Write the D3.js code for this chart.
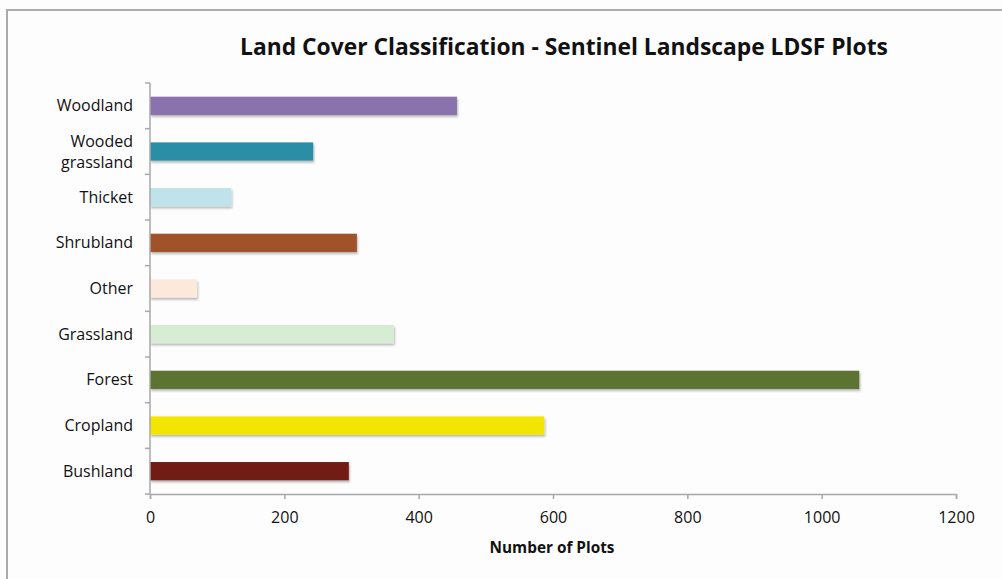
<!DOCTYPE html>
<html>
<head>
<meta charset="utf-8">
<script src="https://cdn.jsdelivr.net/npm/d3@7/dist/d3.min.js"></script>
<style>
  html, body { margin: 0; padding: 0; background: #fdfdfd; }
  svg { display: block; }
  text { font-family: "Open Sans", "DejaVu Sans", sans-serif; fill: #111; }
</style>
</head>
<body>
<svg id="chart" width="1002" height="579"></svg>
<script>
// Land cover classes, listed top to bottom as drawn
const categories = ["Woodland", "Wooded grassland", "Thicket", "Shrubland", "Other",
                    "Grassland", "Forest", "Cropland", "Bushland"];
const plotCounts = [457, 243, 121, 308, 70, 363, 1056, 587, 296];
const barColors = ["#8a72ad", "#2a8fa6", "#bee3ea", "#a0532a", "#fde9dc",
                   "#d6ecd3", "#5b7333", "#f2e500", "#721d14"];
const xTicks = [0, 200, 400, 600, 800, 1000, 1200];

const title = "Land Cover Classification - Sentinel Landscape LDSF Plots";
const xTitle = "Number of Plots";

const svg = d3.select("#chart");
const margin = { left: 150, right: 46, top: 83, bottom: 85 };
const W = 1002, H = 579;

// outer frame
svg.append("rect")
  .attr("x", 7).attr("y", 10)
  .attr("width", W + 10).attr("height", H + 10)
  .attr("fill", "#fdfdfd")
  .attr("stroke", "#ababab").attr("stroke-width", 2);

const x = d3.scaleLinear().domain([0, 1200]).range([margin.left, W - margin.right]);
const y = d3.scaleBand().domain(categories).range([margin.top, H - margin.bottom]).paddingInner(0.6).paddingOuter(0.3);

// soft drop shadow under bars
const defs = svg.append("defs");
const f = defs.append("filter").attr("id", "shadow").attr("x", "-5%").attr("y", "-30%").attr("width", "110%").attr("height", "170%");
f.append("feDropShadow").attr("dx", 1).attr("dy", 2).attr("stdDeviation", 1.2)
  .attr("flood-color", "#000").attr("flood-opacity", 0.28);

const data = categories.map((c, i) => ({ c, v: plotCounts[i], col: barColors[i] }));

svg.append("g").selectAll("rect").data(data).join("rect")
  .attr("x", x(0))
  .attr("y", d => y(d.c))
  .attr("width", d => x(d.v) - x(0))
  .attr("height", y.bandwidth())
  .attr("fill", d => d.col)
  .attr("filter", "url(#shadow)");

// x axis
const xAxis = svg.append("g")
  .attr("transform", `translate(0,${H - margin.bottom})`)
  .call(d3.axisBottom(x).tickValues(xTicks).tickSize(5).tickPadding(13).tickFormat(d3.format("d")));
xAxis.select(".domain").attr("stroke", "#a8a8a8").attr("stroke-width", 1.5);
xAxis.selectAll(".tick line").attr("stroke", "#a8a8a8").attr("stroke-width", 1.5);
xAxis.selectAll("text").attr("font-size", 16).attr("fill", "#111")
  .attr("font-family", "'Open Sans', sans-serif");

// y axis: line with ticks at band boundaries
const yTop = margin.top, yBot = H - margin.bottom;
const yAxisG = svg.append("g");
yAxisG.append("line")
  .attr("x1", x(0)).attr("x2", x(0)).attr("y1", yTop).attr("y2", yBot)
  .attr("stroke", "#a8a8a8").attr("stroke-width", 1.5);
const step = y.step();
const bounds = d3.range(categories.length + 1).map(i => yTop + i * (yBot - yTop) / categories.length);
yAxisG.selectAll("line.tk").data(bounds).join("line").attr("class", "tk")
  .attr("x1", x(0) - 5).attr("x2", x(0)).attr("y1", d => d).attr("y2", d => d)
  .attr("stroke", "#a8a8a8").attr("stroke-width", 1.5);

// category labels (wrap two-word class)
yAxisG.selectAll("text.lbl").data(data).join("text").attr("class", "lbl")
  .attr("text-anchor", "end").attr("font-size", 16)
  .attr("x", x(0) - 17)
  .each(function (d) {
    const cy = y(d.c) + y.bandwidth() / 2;
    const el = d3.select(this);
    const parts = d.c === "Wooded grassland" ? ["Wooded", "grassland"] : [d.c];
    const lh = 21;
    parts.forEach((p, i) => {
      el.append("tspan").attr("x", x(0) - 17)
        .attr("y", cy + (i - (parts.length - 1) / 2) * lh)
        .attr("dy", "0.35em").text(p);
    });
  });

// chart title
const t = svg.append("text")
  .attr("x", 564).attr("y", 55)
  .attr("text-anchor", "middle")
  .attr("font-weight", "bold").attr("font-size", 24)
  .text(title);
const tw = t.node().getComputedTextLength();
t.attr("font-size", 24 * 648 / tw);

// axis title
const xt = svg.append("text")
  .attr("x", 552).attr("y", 553)
  .attr("text-anchor", "middle")
  .attr("font-weight", "bold").attr("font-size", 15)
  .text(xTitle);
const xw = xt.node().getComputedTextLength();
xt.attr("font-size", 15 * 125 / xw);
</script>
</body>
</html>
